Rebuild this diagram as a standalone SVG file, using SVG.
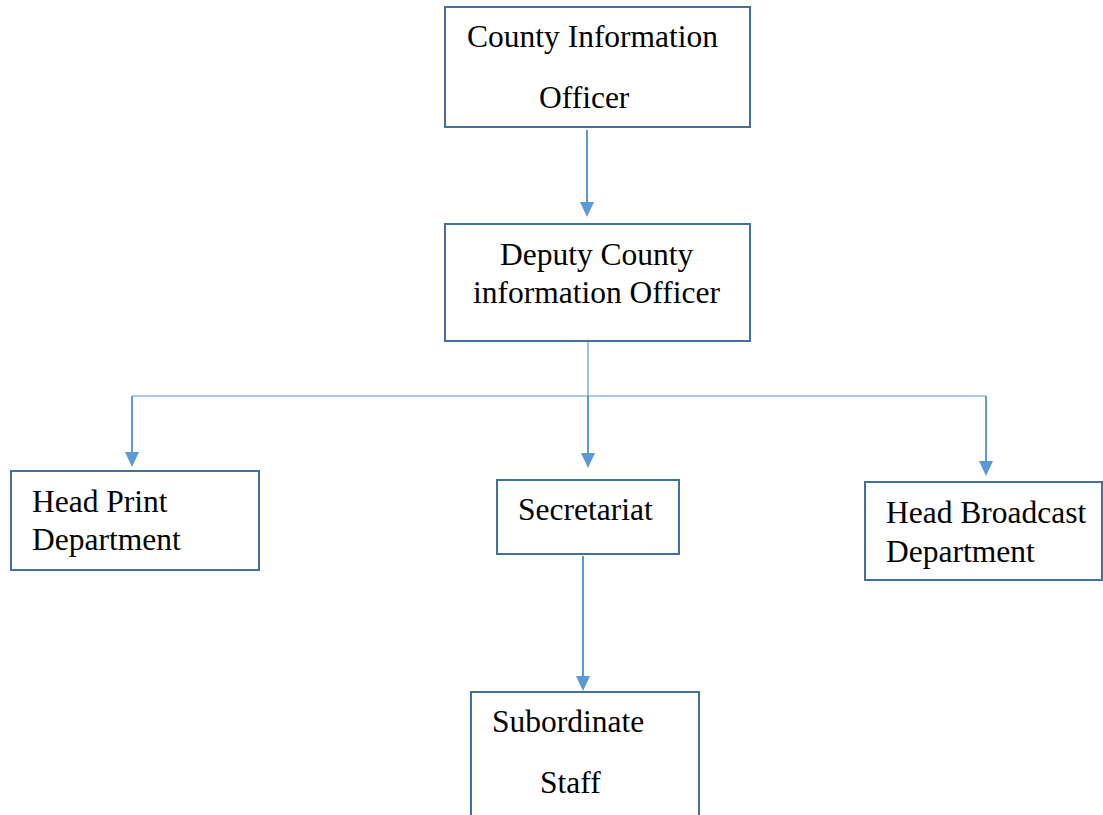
<svg xmlns="http://www.w3.org/2000/svg" width="1103" height="815" viewBox="0 0 1103 815">
<style>
.box{fill:#fff;stroke:#41719C;stroke-width:2}
.t{font-family:"Liberation Serif","Times New Roman",serif;font-size:31.5px;fill:#000}
.c{fill:none;stroke:#5B9BD5;stroke-width:2}
.thin{fill:none;stroke:#5B9BD5;stroke-width:1.2}
</style>
<defs>
<marker id="ah" markerUnits="userSpaceOnUse" markerWidth="16" markerHeight="16" viewBox="0 0 16 16" refX="0" refY="8" orient="auto">
<path d="M0,1 L15,8 L0,15 Z" fill="#5B9BD5"/>
</marker>
</defs>
<rect width="1103" height="815" fill="#fff"/>
<g id="connectors">
<line class="c" x1="587" y1="130" x2="587" y2="202" marker-end="url(#ah)"/>
<line class="thin" x1="588" y1="341" x2="588" y2="396"/>
<line class="thin" x1="132" y1="396" x2="986" y2="396"/>
<line class="c" x1="132" y1="396" x2="132" y2="452" marker-end="url(#ah)"/>
<line class="c" x1="588" y1="396" x2="588" y2="453" marker-end="url(#ah)"/>
<line class="c" x1="986" y1="396" x2="986" y2="461" marker-end="url(#ah)"/>
<line class="c" x1="583" y1="556" x2="583" y2="676" marker-end="url(#ah)"/>
</g>
<g id="county-information-officer">
<rect class="box" x="445" y="7" width="305" height="120"/>
<text class="t" x="467" y="47">County Information</text>
<text class="t" x="539" y="108">Officer</text>
</g>
<g id="deputy-county-information-officer">
<rect class="box" x="445" y="224" width="305" height="117"/>
<text class="t" x="500" y="265">Deputy County</text>
<text class="t" x="473" y="303">information Officer</text>
</g>
<g id="head-print-department">
<rect class="box" x="11" y="471" width="248" height="99"/>
<text class="t" x="32" y="512">Head Print</text>
<text class="t" x="32" y="550">Department</text>
</g>
<g id="secretariat">
<rect class="box" x="497" y="480" width="182" height="74"/>
<text class="t" x="518" y="520">Secretariat</text>
</g>
<g id="head-broadcast-department">
<rect class="box" x="865" y="482" width="237" height="98"/>
<text class="t" x="886" y="523">Head Broadcast</text>
<text class="t" x="886" y="562">Department</text>
</g>
<g id="subordinate-staff">
<rect class="box" x="471" y="692" width="228" height="140"/>
<text class="t" x="492" y="732">Subordinate</text>
<text class="t" x="540" y="793">Staff</text>
</g>
</svg>
